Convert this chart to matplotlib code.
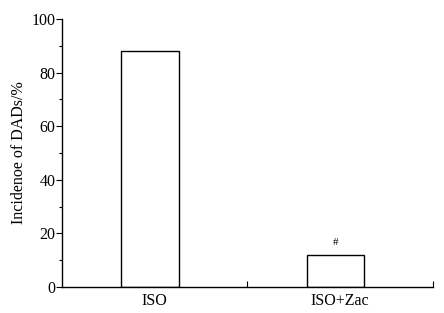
import matplotlib
matplotlib.use("Agg")
import matplotlib.pyplot as plt
from matplotlib.ticker import MultipleLocator

categories = ["ISO", "ISO+Zac"]
values = [88.2, 11.8]
marks = ["", "#"]

plt.rcParams['font.family'] = ['Liberation Serif', 'DejaVu Serif']

fig = plt.figure(figsize=(4.44, 3.13), dpi=100)
ax = fig.add_axes([0.1396, 0.083, 0.8354, 0.856])

pos = [i + 0.475 for i in range(len(categories))]
bars = ax.bar(pos, values, width=0.31, facecolor="white", edgecolor="black", linewidth=1.0)
for b, m in zip(bars, marks):
    if m:
        ax.text(b.get_x() + b.get_width() / 2, b.get_height() + 3, m,
                ha="center", va="bottom", fontsize=8)

ax.set_xlim(0, len(categories))
ax.set_ylim(0, 100)
ax.yaxis.set_major_locator(MultipleLocator(20))
ax.yaxis.set_minor_locator(MultipleLocator(10))
ax.tick_params(axis="y", which="major", direction="out", length=4, width=0.8, labelsize=11.5, pad=0.8)
ax.tick_params(axis="y", which="minor", direction="out", length=2.5, width=0.8)

ax.set_xticks([1, 2])
ax.set_xticklabels(["", ""])
ax.set_xticks([i + 0.5 for i in range(len(categories))], minor=True)
ax.set_xticklabels(categories, minor=True)
ax.tick_params(axis="x", which="major", direction="in", length=4, width=0.8)
ax.tick_params(axis="x", which="minor", length=0, labelsize=11.5, pad=4)

for s in ["top", "right"]:
    ax.spines[s].set_visible(False)
for s in ["left", "bottom"]:
    ax.spines[s].set_linewidth(1.0)

ax.set_ylabel("Incidenoe of DADs/%", fontsize=11.5, labelpad=3)

fig.savefig("out.png", dpi=100)
